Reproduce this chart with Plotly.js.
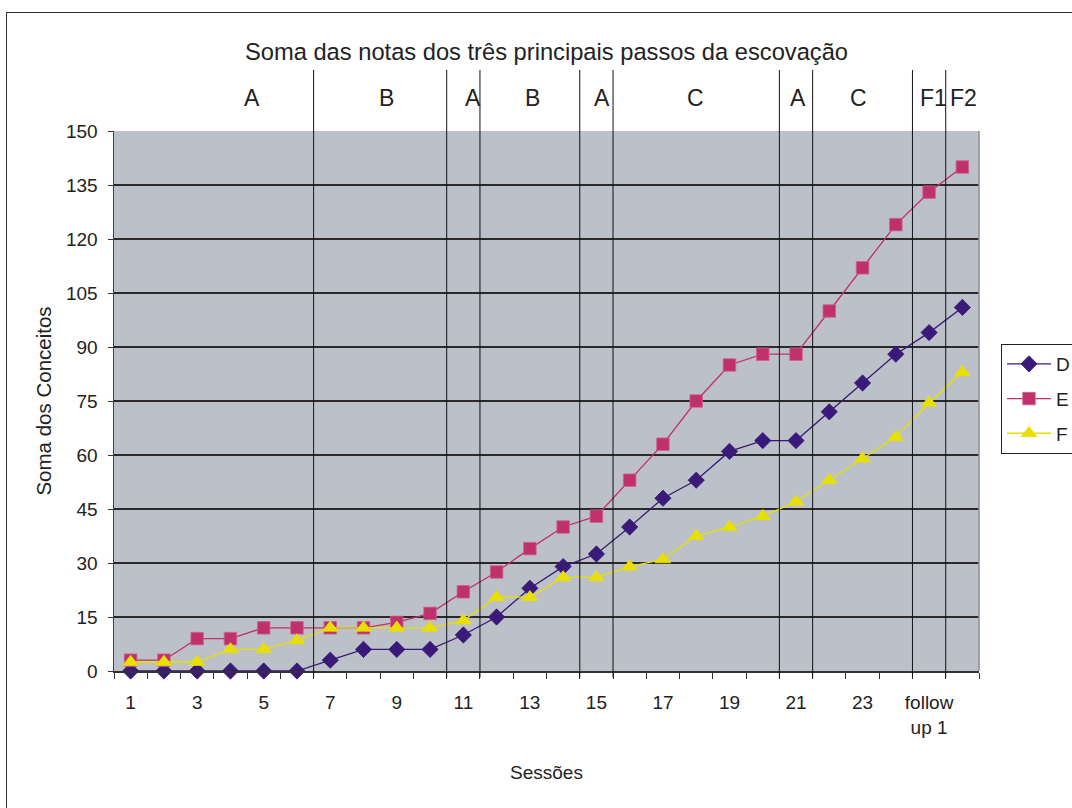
<!DOCTYPE html>
<html>
<head>
<meta charset="utf-8">
<script src="https://cdn.plot.ly/plotly-3.0.1.min.js"></script>
<style>
  html, body { margin: 0; padding: 0; background: #ffffff; }
  #frame { position: absolute; left: 6px; top: 12px; width: 1200px; height: 900px;
           border-left: 1px solid #333; border-top: 1px solid #333; box-sizing: border-box; }
  #chart { position: absolute; left: 0; top: 0; width: 1072px; height: 808px; }
</style>
</head>
<body>
<div id="frame"></div>
<div id="chart"></div>
<script>
// ---- data ----
const sessions = ['1','2','3','4','5','6','7','8','9','10','11','12','13','14','15','16','17','18','19','20','21','22','23','24','follow up 1','follow up 2'];
const tickLabels = ['1','','3','','5','','7','','9','','11','','13','','15','','17','','19','','21','','23','','follow<br>up 1',''];
const seriesNames = ['D','E','F'];
const valuesD = [0,0,0,0,0,0,3,6,6,6,10,15,23,29,32.5,40,48,53,61,64,64,72,80,88,94,101];
const valuesE = [3,3,9,9,12,12,12,12,13.5,16,22,27.5,34,40,43,53,63,75,85,88,88,100,112,124,133,140];
const valuesF = [2.5,2.5,2.5,6,6,8.5,12,12,12,12,14,20.5,20.5,26,26,29,31,37.5,40,43,47,53,59,65,74.5,83];
const phaseLabels = ['A','B','A','B','A','C','A','C','F1','F2'];
const phaseFirstSession = ['1','7','11','12','15','16','21','22','follow up 1','follow up 2'];
const yTicks = [0,15,30,45,60,75,90,105,120,135,150];

// ---- styling ----
const FONT = 'Liberation Sans, Arial, sans-serif';
const colors = ['#3a1a78','#c0306c','#e8e000'];
const symbols = ['diamond','square','triangle-up'];
const sizes = [12.5,12.5,13.5];
const lineColors = ['#3a1a78','#c0306c','#e8e000'];
const allValues = [valuesD, valuesE, valuesF];

const traces = seriesNames.map((n, i) => ({
  type: 'scatter', mode: 'lines+markers', name: n, x: sessions, y: allValues[i],
  legendgroup: n,
  line: {color: lineColors[i], width: 1.3},
  marker: {symbol: symbols[i], size: sizes[i], color: colors[i],
           line: {color: i === 1 ? '#d0608c' : colors[i], width: 0.8}},
  cliponaxis: false
}));

// phase boundaries & labels
const shapes = [];
const annotations = [];
const starts = phaseFirstSession.map(s => sessions.indexOf(s));
const labelShift = [38, 6, 10, 3, 6, -1, 2, -4, 4, 1];
starts.forEach((st, k) => {
  const end = (k + 1 < starts.length) ? starts[k + 1] - 1 : sessions.length - 1;
  if (k > 0) {
    shapes.push({type: 'line', xref: 'x', yref: 'paper', x0: st - 0.5, x1: st - 0.5,
                 y0: -0.012, y1: 1.113, line: {color: '#111', width: 1}});
  }
  annotations.push({xref: 'x', yref: 'paper', x: (st + end) / 2, y: 1.061, yanchor: 'middle',
                    text: phaseLabels[k], showarrow: false, xshift: labelShift[k],
                    font: {family: FONT, size: 23, color: '#222'}});
});
// right border of plot area
shapes.push({type: 'line', xref: 'paper', yref: 'paper', x0: 1, x1: 1, y0: 0, y1: 1,
             line: {color: '#8a8f96', width: 1.5}});

const layout = {
  width: 1072, height: 808,
  paper_bgcolor: 'rgba(0,0,0,0)',
  plot_bgcolor: '#bcc0c8',
  margin: {l: 114, r: 93, t: 131, b: 137, autoexpand: false},
  showlegend: true,
  title: {text: 'Soma das notas dos três principais passos da escovação',
          x: 0.5, xref: 'paper', y: 1 - 52 / 808, yref: 'container', yanchor: 'middle',
          font: {family: FONT, size: 23.7, color: '#222'}},
  xaxis: {type: 'category', categoryorder: 'array', categoryarray: sessions,
          tickvals: sessions, ticktext: tickLabels, tickangle: 0,
          range: [-0.5, sessions.length - 0.5],
          tickson: 'boundaries', ticks: 'outside', ticklen: 6, tickcolor: '#333', tickwidth: 1,
          showgrid: false, zeroline: false,
          showline: true, linecolor: '#333', linewidth: 1.5,
          ticklabelstandoff: 14,
          tickfont: {family: FONT, size: 19, color: '#222'},
          title: {text: 'Sessões', standoff: 28, font: {family: FONT, size: 19, color: '#222'}}},
  yaxis: {range: [0, 150], tickvals: yTicks,
          ticks: 'outside', ticklen: 5, tickcolor: '#333',
          showgrid: true, gridcolor: '#2a2a2a', gridwidth: 1.2,
          zeroline: false, showline: true, linecolor: '#444', linewidth: 1.5,
          ticklabelstandoff: 6,
          tickfont: {family: FONT, size: 19, color: '#222'},
          title: {text: 'Soma dos Conceitos', standoff: 9, font: {family: FONT, size: 20.5, color: '#222'}}},
  legend: {x: (1001 - 114) / 865, y: (671 - 344) / 540, xanchor: 'left', yanchor: 'top',
           bgcolor: '#ffffff', bordercolor: '#222', borderwidth: 1,
           tracegroupgap: 7, itemwidth: 44,
           font: {family: FONT, size: 19, color: '#222'}},
  shapes: shapes,
  annotations: annotations
};

Plotly.newPlot('chart', traces, layout, {displayModeBar: false, staticPlot: true});
</script>
</body>
</html>
